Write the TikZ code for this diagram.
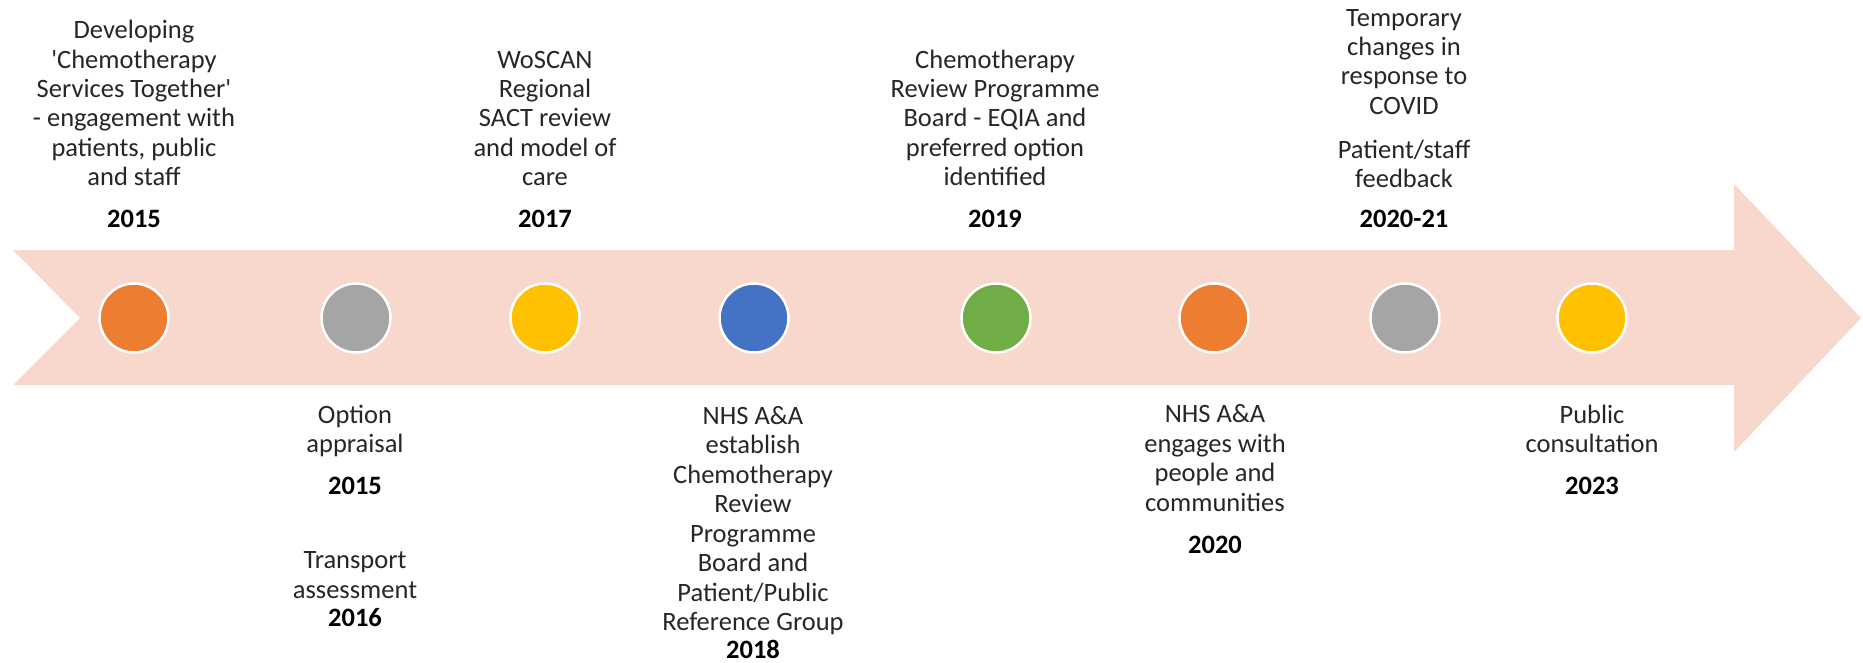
\documentclass[tikz,border=0pt]{standalone}
\usepackage{fontspec}
\setmainfont{Carlito}
\definecolor{band}{HTML}{F8D7CC}
\definecolor{dotorange}{HTML}{ED7D31}
\definecolor{dotgray}{HTML}{A5A5A5}
\definecolor{dotyellow}{HTML}{FFC000}
\definecolor{dotblue}{HTML}{4472C4}
\definecolor{dotgreen}{HTML}{70AD47}
\definecolor{txt}{HTML}{262626}
\newcommand\yearlabel[1]{\textcolor{black}{\bfseries #1}}
\begin{document}
\begin{tikzpicture}[x=1pt,y=-1pt,
  dot/.style={circle,draw=white,line width=2.5pt,minimum size=69pt,inner sep=0pt},
  % labels are placed by the baseline of their last line (the year)
  lbl/.style={align=center,inner sep=0pt,anchor=base,text=txt,
              font=\fontsize{26.5}{29.5}\selectfont},
  ]
\useasboundingbox (0,0) rectangle (1863,663);

% timeline band with notched tail and arrow head
\fill[band] (13,250) -- (1734,250) -- (1734,184) -- (1861,318) -- (1734,452)
  -- (1734,385) -- (13,385) -- (80,318) -- cycle;

% milestone dots
\node[dot,fill=dotorange] (c1) at (134,318) {};
\node[dot,fill=dotgray]   (c2) at (356,318) {};
\node[dot,fill=dotyellow] (c3) at (545,318) {};
\node[dot,fill=dotblue]   (c4) at (754,318) {};
\node[dot,fill=dotgreen]  (c5) at (996,318) {};
\node[dot,fill=dotorange] (c6) at (1214,318) {};
\node[dot,fill=dotgray]   (c7) at (1405,318) {};
\node[dot,fill=dotyellow] (c8) at (1592,318) {};

% labels above the band
\node[lbl] (t1) at (134,228) {Developing\\\textquotesingle Chemotherapy\\Services Together\textquotesingle\\- engagement with\\patients, public\\and staff\\[12.5pt]\yearlabel{2015}};
\node[lbl] (t2) at (545,228) {WoSCAN\\Regional\\SACT review\\and model of\\care\\[12.5pt]\yearlabel{2017}};
\node[lbl] (t3) at (995,228) {Chemotherapy\\Review Programme\\Board - EQIA and\\preferred option\\identified\\[12.5pt]\yearlabel{2019}};
\node[lbl] (t4) at (1404,228) {Temporary\\changes in\\response to\\COVID\\[14pt]Patient/staff\\feedback\\[11pt]\yearlabel{2020-21}};

% labels below the band
\node[lbl] (b1) at (355,494) {Option\\appraisal\\[12pt]\yearlabel{2015}};
\node[lbl] (b2) at (355,626) {Transport\\assessment\\[-1.5pt]\yearlabel{2016}};
\node[lbl] (b3) at (753,658) {NHS A\&A\\establish\\Chemotherapy\\Review\\Programme\\Board and\\Patient/Public\\Reference Group\\[-2pt]\yearlabel{2018}};
\node[lbl] (b4) at (1215,553) {NHS A\&A\\engages with\\people and\\communities\\[12.5pt]\yearlabel{2020}};
\node[lbl] (b5) at (1592,494) {Public\\consultation\\[12pt]\yearlabel{2023}};
\end{tikzpicture}
\end{document}
